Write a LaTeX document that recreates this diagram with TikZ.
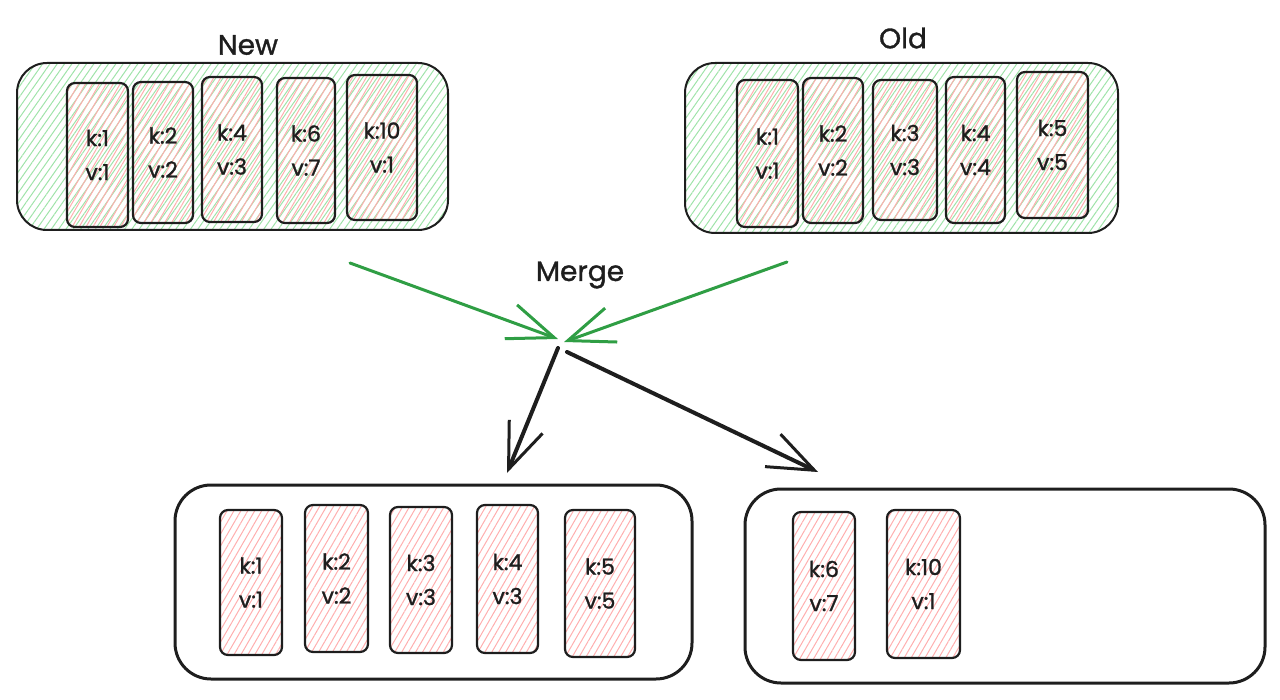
\documentclass[tikz,border=0pt]{standalone}
\usepackage{fontspec}
\setmainfont{Poppins}
\newfontfamily\hand{Poppins}[FakeBold=1.2]
\usetikzlibrary{arrows.meta,patterns.meta}
\definecolor{ink}{HTML}{1E1E1E}
\definecolor{hgreen}{HTML}{9FE3A9}
\definecolor{hred}{HTML}{FFAEAE}
\definecolor{agreen}{HTML}{2F9E44}
\tikzset{
  container/.style={draw=ink, line width=1pt, rounded corners=15pt, inner sep=0pt,
    pattern={Lines[angle=55,distance=3pt,line width=0.5pt]}, pattern color=hgreen},
  outbox/.style={draw=ink, line width=1.5pt, rounded corners=18pt, inner sep=0pt},
  kv/.style={draw=ink, line width=1.1pt, rounded corners=4pt, inner sep=0pt,
    pattern={Lines[angle=60,distance=3pt,line width=0.5pt]}, pattern color=hred,
    align=center, font=\hand\fontsize{11}{17}\selectfont, text=ink},
  title/.style={font=\hand\fontsize{14}{16}\selectfont, text=ink, inner sep=0pt},
  garrow/.style={draw=agreen, line width=1.5pt, line cap=round,
    -{Straight Barb[length=23pt,width=18pt,line width=1.5pt]}},
  karrow/.style={draw=ink, line width=2pt, line cap=round,
    -{Straight Barb[length=23pt,width=18pt,line width=1.5pt]}}
}
\begin{document}
\begin{tikzpicture}[x=0.5pt,y=-0.5pt]
\useasboundingbox (0,0) rectangle (1280,700);

% containers
\node[container, minimum width=215.5pt, minimum height=83.5pt] (new) at (232.5,146.5) {};
\node[container, minimum width=216.5pt, minimum height=85pt] (old) at (901.5,148) {};
\node[outbox, minimum width=258.5pt, minimum height=97pt] (outa) at (433.5,582) {};
\node[outbox, minimum width=260pt, minimum height=97pt] (outb) at (1005,586) {};

% titles
\node[title] (tnew) at (248,45) {New};
\node[title] (told) at (903,38) {Old};
\node[title] (tmerge) at (580,275) {Merge};

% New boxes
\node[kv, minimum width=30.5pt, minimum height=72pt] (n1) at (97.5,155) {k:1\\v:1};
\node[kv, minimum width=30pt, minimum height=70.5pt] (n2) at (163,152.5) {k:2\\v:2};
\node[kv, minimum width=30pt, minimum height=72.5pt] (n3) at (232,149.5) {k:4\\v:3};
\node[kv, minimum width=29pt, minimum height=72.5pt] (n4) at (306,150.5) {k:6\\v:7};
\node[kv, minimum width=35pt, minimum height=72.5pt] (n5) at (382,147.5) {k:10\\v:1};

% Old boxes
\node[kv, minimum width=30.5pt, minimum height=73.5pt] (o1) at (767.5,153.5) {k:1\\v:1};
\node[kv, minimum width=30pt, minimum height=72.5pt] (o2) at (833,150.5) {k:2\\v:2};
\node[kv, minimum width=32pt, minimum height=70pt] (o3) at (905,150) {k:3\\v:3};
\node[kv, minimum width=29.5pt, minimum height=73pt] (o4) at (975.5,150) {k:4\\v:4};
\node[kv, minimum width=35.5pt, minimum height=73pt] (o5) at (1052.5,145) {k:5\\v:5};

% Output A boxes
\node[kv, minimum width=31pt, minimum height=72.5pt] (a1) at (251,582.5) {k:1\\v:1};
\node[kv, minimum width=31.5pt, minimum height=73.5pt] (a2) at (336.5,578.5) {k:2\\v:2};
\node[kv, minimum width=31pt, minimum height=73pt] (a3) at (421,580) {k:3\\v:3};
\node[kv, minimum width=30.5pt, minimum height=74pt] (a4) at (507.5,579) {k:4\\v:3};
\node[kv, minimum width=35pt, minimum height=73.5pt] (a5) at (600,583.5) {k:5\\v:5};

% Output B boxes
\node[kv, minimum width=31pt, minimum height=74pt] (b1) at (824,586) {k:6\\v:7};
\node[kv, minimum width=36.5pt, minimum height=74pt] (b2) at (923.5,584) {k:10\\v:1};

% arrow end points
\coordinate (g1s) at (350,263);
\coordinate (g1e) at (558,339);
\coordinate (g2s) at (787,262);
\coordinate (g2e) at (564,342);
\coordinate (k1s) at (558,348);
\coordinate (k1e) at (507,473);
\coordinate (k2s) at (567,352);
\coordinate (k2e) at (818,472);

\draw[garrow] (g1s) -- (g1e);
\draw[garrow] (g2s) -- (g2e);
\draw[karrow] (k1s) -- (k1e);
\draw[karrow] (k2s) -- (k2e);
\end{tikzpicture}
\end{document}
